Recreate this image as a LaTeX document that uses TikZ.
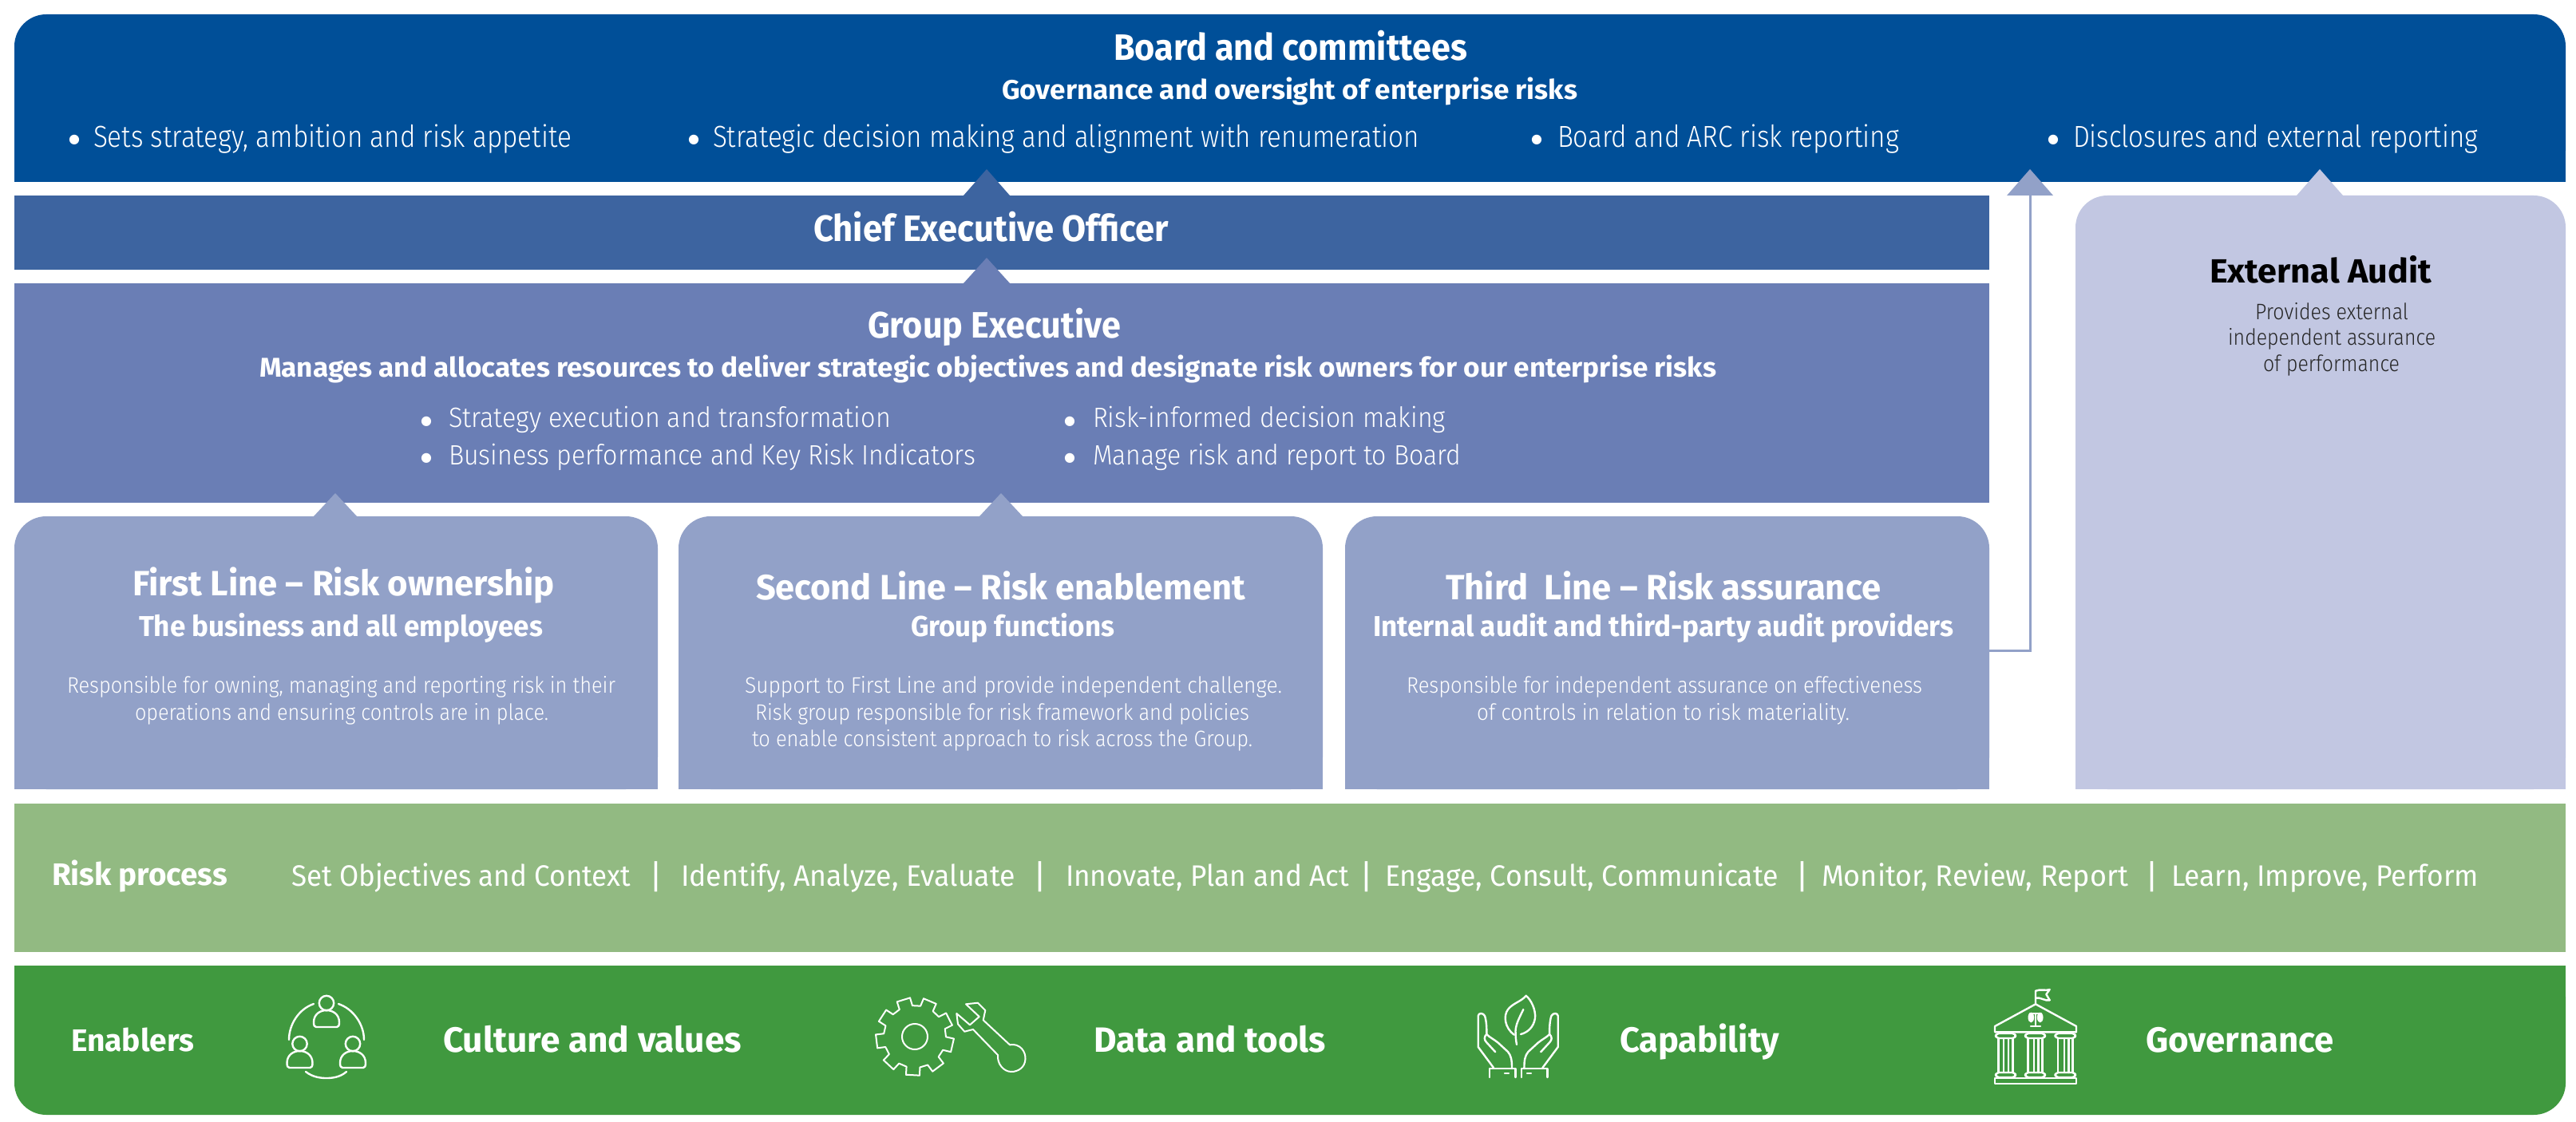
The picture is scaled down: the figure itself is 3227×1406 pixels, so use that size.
\documentclass[tikz,border=0pt]{standalone}
\usepackage{fontspec}
\usepackage{graphicx}
\usetikzlibrary{calc}
\setmainfont{Fira Sans}
\newfontfamily\lightf{Fira Sans Light}
\newfontfamily\dotf{DejaVu Sans}
\definecolor{cboard}{HTML}{004F98}
\definecolor{cceo}{HTML}{3D64A0}
\definecolor{cge}{HTML}{6A7EB5}
\definecolor{cline}{HTML}{92A1C8}
\definecolor{cea}{HTML}{C2C7E2}
\definecolor{cproc}{HTML}{92BA82}
\definecolor{cenab}{HTML}{40993F}
\tikzset{
  panel/.style={inner sep=0pt,outer sep=0pt,draw=none,rectangle},
  lbl/.style={inner sep=0pt,outer sep=0pt,anchor=base west,text=white},
  ic/.style={draw=white,line width=1.2pt,line join=round,line cap=round}
}
% name, x0,y0,x1,y1 in reference pixels
\newcommand\panelnode[6][]{\node[panel,#1,minimum width={(#5-#3)*0.5pt},minimum height={(#6-#4)*0.5pt}] (#2) at ({(#3+#5)/2},{(#4+#6)/2}) {};}
% name, x, baseline y, width px, font, text
\newcommand\tx[7][]{\node[lbl,#1] (#2) at (#3,#4) {\resizebox{\dimexpr #5pt/2\relax}{\height}{#6#7}};}
\newcommand\bull[3]{\node[lbl,anchor=base] (#1) at (#2,{#3-5}) {\fontsize{8}{8}\selectfont\dotf ●};}
\newcommand\sepbar[3]{\node[lbl,anchor=base] (#1) at (#2,{#3+3}) {\fontsize{21}{21}\selectfont |};}
\newcommand\handshape{%
  \draw[ic] (1871,1338) -- (1851.7,1312) -- (1851.7,1273) .. controls (1852,1269) and (1858,1269) .. (1860,1273) .. controls (1862,1279) and (1862.5,1288) .. (1862.3,1296) .. controls (1866,1300) and (1871,1302) .. (1876.7,1306.7) -- (1889,1318) .. controls (1893,1323) and (1894,1328) .. (1894,1339);
  \draw[ic] (1862.3,1296) .. controls (1859,1299) and (1859,1303) .. (1862,1306) -- (1873.3,1318.3);
}
\newcommand\personshape[2]{%
  \begin{scope}[shift={(#1,#2)}]
    \draw[ic] (0,0) circle[radius=4.6pt];
    \draw[ic] (-13,30) -- (13,30) .. controls (15,30) and (16,28) .. (16,24) .. controls (16,14) and (8,9) .. (0,9) .. controls (-8,9) and (-16,14) .. (-16,24) .. controls (-16,28) and (-15,30) .. (-13,30) -- cycle;
  \end{scope}}
\begin{document}
\begin{tikzpicture}[x=0.5pt,y=-0.5pt]
\useasboundingbox (0,0) rectangle (3227,1406);
\fill[white] (0,0) rectangle (3227,1406);
% panels
\panelnode{board}{18}{18}{3214}{228}
\panelnode[fill=cceo]{ceo}{18}{245}{2492}{338}
\panelnode[fill=cge]{ge}{18}{355}{2492}{630}
\panelnode{first}{18}{647}{824}{989}
\panelnode{second}{850}{647}{1657}{989}
\panelnode{third}{1685}{647}{2492}{989}
\panelnode{extaudit}{2600}{245}{3214}{989}
\panelnode[fill=cproc]{proc}{18}{1007}{3214}{1193}
\panelnode{enab}{18}{1210}{3214}{1397}
% rounded fills (top corners round, bottom square; reverse for enablers)
\foreach \n/\c in {board/cboard,first/cline,second/cline,third/cline,extaudit/cea}{
  \fill[\c,rounded corners=20pt] (\n.north west) rectangle (\n.south east);
  \fill[\c] ($(\n.north west)+(0,60)$) rectangle (\n.south east);
}
\fill[cenab,rounded corners=20pt] (enab.north west) rectangle (enab.south east);
\fill[cenab] (enab.north west) rectangle ($(enab.south east)+(0,-60)$);
% triangular heads on the panels
\coordinate (apCeo) at (1236,212);
\coordinate (apGe) at (1236,323);
\coordinate (apFirst) at (420,618);
\coordinate (apSecond) at (1254,618);
\coordinate (apThird) at (2543,212);
\coordinate (apEa) at (2906,212);
\fill[cceo] (apCeo) -- ($(apCeo |- ceo.north)+(-29,0)$) -- ($(apCeo |- ceo.north)+(29,0)$) -- cycle;
\fill[cge] (apGe) -- ($(apGe |- ge.north)+(-29,0)$) -- ($(apGe |- ge.north)+(29,0)$) -- cycle;
\fill[cline] (apFirst) -- ($(apFirst |- first.north)+(-27,0)$) -- ($(apFirst |- first.north)+(27,0)$) -- cycle;
\fill[cline] (apSecond) -- ($(apSecond |- second.north)+(-27,0)$) -- ($(apSecond |- second.north)+(27,0)$) -- cycle;
\fill[cline] (apThird) -- ($(apThird |- ceo.north)+(-29,0)$) -- ($(apThird |- ceo.north)+(29,0)$) -- cycle;
\fill[cea] (apEa) -- ($(apEa |- extaudit.north)+(-29,0)$) -- ($(apEa |- extaudit.north)+(29,0)$) -- cycle;
% connector third line -> board
\coordinate (thirdOut) at (third.east |- 0,815);
\draw[cline,line width=1.5pt] (thirdOut) -| (apThird |- ceo.north);
% Board
\tx{t1}{1395}{76}{443}{\fontsize{23}{23}\selectfont\bfseries}{Board and committees}
\tx{t2}{1255}{125}{721}{\fontsize{17}{17}\selectfont\bfseries}{Governance and oversight of enterprise risks}
\bull{b1}{93}{185}\tx{t3}{117}{185}{599}{\fontsize{19}{19}\selectfont\lightf}{Sets strategy, ambition and risk appetite}
\bull{b2}{869}{185}\tx{t4}{893}{185}{885}{\fontsize{19}{19}\selectfont\lightf}{Strategic decision making and alignment with renumeration}
\bull{b3}{1925}{185}\tx{t5}{1951}{185}{428}{\fontsize{19}{19}\selectfont\lightf}{Board and ARC risk reporting}
\bull{b4}{2572}{185}\tx{t6}{2597}{185}{507}{\fontsize{19}{19}\selectfont\lightf}{Disclosures and external reporting}
% CEO
\tx{t7}{1019}{303}{445}{\fontsize{23}{23}\selectfont\bfseries}{Chief Executive Officer}
% Group Executive
\tx{t8}{1087}{424}{317}{\fontsize{23}{23}\selectfont\bfseries}{Group Executive}
\tx{t9}{325}{473}{1825}{\fontsize{17}{17}\selectfont\bfseries}{Manages and allocates resources to deliver strategic objectives and designate risk owners for our enterprise risks}
\bull{b5}{534}{537}\tx{t10}{562}{535}{554}{\fontsize{17.5}{17.5}\selectfont\lightf}{Strategy execution and transformation}
\bull{b6}{534}{584}\tx{t11}{562}{582}{660}{\fontsize{17.5}{17.5}\selectfont\lightf}{Business performance and Key Risk Indicators}
\bull{b7}{1340}{537}\tx{t12}{1369}{535}{442}{\fontsize{17.5}{17.5}\selectfont\lightf}{Risk-informed decision making}
\bull{b8}{1340}{584}\tx{t13}{1369}{582}{461}{\fontsize{17.5}{17.5}\selectfont\lightf}{Manage risk and report to Board}
% First line
\tx{t14}{166}{746}{529}{\fontsize{22}{22}\selectfont\bfseries}{First Line – Risk ownership}
\tx{t15}{174}{797}{506}{\fontsize{18}{18}\selectfont\bfseries}{The business and all employees}
\tx{t16}{84}{868}{687}{\fontsize{14}{14}\selectfont\lightf}{Responsible for owning, managing and reporting risk in their}
\tx{t17}{169}{902}{518}{\fontsize{14}{14}\selectfont\lightf}{operations and ensuring controls are in place.}
% Second line
\tx{t18}{947}{751}{613}{\fontsize{22}{22}\selectfont\bfseries}{Second Line – Risk enablement}
\tx{t19}{1141}{797}{255}{\fontsize{18}{18}\selectfont\bfseries}{Group functions}
\tx{t20}{933}{868}{673}{\fontsize{14}{14}\selectfont\lightf}{Support to First Line and provide independent challenge.}
\tx{t21}{946}{902}{619}{\fontsize{14}{14}\selectfont\lightf}{Risk group responsible for risk framework and policies}
\tx{t22}{942}{935}{627}{\fontsize{14}{14}\selectfont\lightf}{to enable consistent approach to risk across the Group.}
% Third line
\tx{t23}{1811}{751}{545}{\fontsize{22}{22}\selectfont\bfseries}{Third\ \ Line – Risk assurance}
\tx{t24}{1720}{797}{727}{\fontsize{18}{18}\selectfont\bfseries}{Internal audit and third-party audit providers}
\tx{t25}{1762}{868}{646}{\fontsize{14}{14}\selectfont\lightf}{Responsible for independent assurance on effectiveness}
\tx{t26}{1850}{902}{467}{\fontsize{14}{14}\selectfont\lightf}{of controls in relation to risk materiality.}
% External audit
\tx[text=black]{t27}{2768}{355}{278}{\fontsize{21}{21}\selectfont\bfseries}{External Audit}
\tx[text=black!85]{t28}{2825}{401}{192}{\fontsize{14}{14}\selectfont\lightf}{Provides external}
\tx[text=black!85]{t29}{2791}{433}{260}{\fontsize{14}{14}\selectfont\lightf}{independent assurance}
\tx[text=black!85]{t30}{2835}{466}{171}{\fontsize{14}{14}\selectfont\lightf}{of performance}
% Risk process
\tx{t31}{65}{1109}{220}{\fontsize{19.5}{19.5}\selectfont\bfseries}{Risk process}
\tx{t32}{365}{1110}{425}{\fontsize{18.5}{18.5}\selectfont}{Set Objectives and Context}
\sepbar{s1}{822}{1110}
\tx{t33}{853}{1110}{419}{\fontsize{18.5}{18.5}\selectfont}{Identify, Analyze, Evaluate}
\sepbar{s2}{1303}{1110}
\tx{t34}{1335}{1110}{355}{\fontsize{18.5}{18.5}\selectfont}{Innovate, Plan and Act}
\sepbar{s3}{1712}{1110}
\tx{t35}{1735}{1110}{493}{\fontsize{18.5}{18.5}\selectfont}{Engage, Consult, Communicate}
\sepbar{s4}{2258}{1110}
\tx{t36}{2282}{1110}{384}{\fontsize{18.5}{18.5}\selectfont}{Monitor, Review, Report}
\sepbar{s5}{2696}{1110}
\tx{t37}{2720}{1110}{385}{\fontsize{18.5}{18.5}\selectfont}{Learn, Improve, Perform}
% Enablers
\tx{t38}{89}{1317}{154}{\fontsize{19.5}{19.5}\selectfont\bfseries}{Enablers}
\tx{t39}{555}{1318}{374}{\fontsize{22}{22}\selectfont\bfseries}{Culture and values}
\tx{t40}{1370}{1318}{291}{\fontsize{22}{22}\selectfont\bfseries}{Data and tools}
\tx{t41}{2029}{1318}{200}{\fontsize{22}{22}\selectfont\bfseries}{Capability}
\tx{t42}{2688}{1318}{236}{\fontsize{22}{22}\selectfont\bfseries}{Governance}
% --- people icon
\personshape{409}{1257}
\personshape{375.5}{1308}
\personshape{442}{1308}
\draw[ic] (393,1258) .. controls (375,1264) and (362,1283) .. (362,1303);
\draw[ic] (424,1258) .. controls (442,1264) and (456,1283) .. (456,1303);
\draw[ic] (383,1343) .. controls (392,1350) and (402,1351) .. (409,1351) .. controls (416,1351) and (426,1350) .. (434,1343);
% --- gear
\draw[ic,line width=1pt] ({1146+39*cos(94.5)},{1299-39*sin(94.5)}) foreach \a in {107,147,187,227,267,307,347,387,427}{
  -- ({1146+39*cos(\a-12.5)},{1299-39*sin(\a-12.5)})
  -- ({1146+49*cos(\a-10)},{1299-49*sin(\a-10)})
  -- ({1146+49*cos(\a+10)},{1299-49*sin(\a+10)})
  -- ({1146+39*cos(\a+12.5)},{1299-39*sin(\a+12.5)})
} -- cycle;
\draw[ic,line width=1pt] (1146,1299) circle[radius=8pt];
% --- wrench
\draw[ic,line width=1pt] (1210,1258.3) -- (1225,1256.7) -- (1234.3,1266) -- (1231.7,1278.3) -- (1265,1309.3) .. controls (1278,1307) and (1285,1318) .. (1284.5,1327) .. controls (1284,1338) and (1275,1343) .. (1267,1343) .. controls (1257,1343) and (1249,1333) .. (1250,1322) -- (1219,1290) -- (1208.3,1292.7) -- (1200,1283.3) -- (1198.3,1270) -- (1215,1284.3) -- (1226.7,1274) -- cycle;
% --- hands and leaf
\handshape
\begin{scope}[x=-0.5pt,shift={(-3803.4,0)}]\handshape\end{scope}
\draw[ic] (1865.7,1350) -- (1865.7,1339) -- (1898.3,1339) -- (1898.3,1350);
\draw[ic] (1905.7,1350) -- (1905.7,1339) -- (1938.3,1339) -- (1938.3,1350);
\draw[ic] (1885,1345) -- (1890,1345);
\draw[ic] (1913,1345) -- (1918,1345);
\draw[ic] (1896.7,1296.7) .. controls (1885,1288) and (1883,1273) .. (1889,1265) .. controls (1895,1257) and (1906,1255) .. (1911.7,1247.7) .. controls (1918,1253) and (1924,1265) .. (1923,1276) .. controls (1921,1288) and (1913,1294) .. (1905,1296);
\draw[ic] (1908.3,1265) .. controls (1903,1276) and (1899,1283) .. (1898.5,1292) .. controls (1898.5,1298) and (1899,1304) .. (1900,1309);
% --- temple
\draw[ic] (2550,1258.3) -- (2550,1241.7) .. controls (2556,1239) and (2562,1242) .. (2567.7,1240) -- (2563.3,1246) -- (2567.7,1253.3) .. controls (2562,1255) and (2556,1249) .. (2550,1250.7);
\draw[ic] (2499,1293.3) -- (2499,1286) -- (2550,1258.3) -- (2601,1286) -- (2601,1293.3) -- cycle;
\draw[ic] (2550,1270) -- (2550,1286) (2544,1286) -- (2556,1286) (2543,1270) -- (2557,1270);
\fill[white] (2544.3,1275) ellipse[x radius=1.9pt,y radius=3.2pt];
\fill[white] (2555.7,1275) ellipse[x radius=1.9pt,y radius=3.2pt];
\foreach \l/\r/\m/\n in {2500/2525/2510/2516,2537/2562/2547.7/2553.3,2574.5/2600/2586/2591.5}{
  \draw[ic,rounded corners=2pt] (\l,1295) rectangle (\r,1301);
  \draw[ic,rounded corners=2pt] (\l,1344) rectangle (\r,1350);
  \draw[ic] (\l+3.5,1301) -- (\l+3.5,1344) (\r-3.5,1301) -- (\r-3.5,1344) (\m,1301) -- (\m,1344) (\n,1301) -- (\n,1344);
}
\draw[ic] (2499,1350.7) rectangle (2601,1357.7);
\end{tikzpicture}
\end{document}
